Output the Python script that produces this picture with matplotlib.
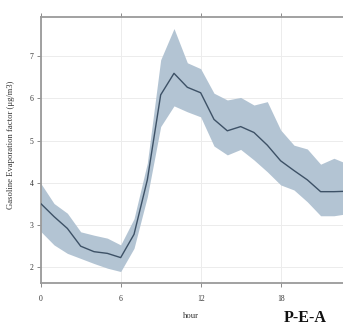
import matplotlib
matplotlib.use("Agg")
import matplotlib.pyplot as plt

hours = list(range(24))
mean_vals = [3.51, 3.20, 2.92, 2.50, 2.37, 2.33, 2.23, 2.78, 4.07, 6.08, 6.59, 6.26,
             6.13, 5.50, 5.23, 5.33, 5.19, 4.89, 4.52, 4.29, 4.07, 3.79, 3.79, 3.80]
upper_vals = [3.99, 3.51, 3.28, 2.84, 2.76, 2.69, 2.53, 3.15, 4.47, 6.91, 7.65, 6.84,
              6.70, 6.12, 5.96, 6.02, 5.84, 5.92, 5.25, 4.89, 4.80, 4.44, 4.58, 4.45]
lower_vals = [2.85, 2.53, 2.33, 2.21, 2.09, 1.98, 1.90, 2.45, 3.67, 5.33, 5.82, 5.68,
              5.56, 4.87, 4.66, 4.79, 4.54, 4.26, 3.95, 3.83, 3.55, 3.22, 3.22, 3.27]
xticks = [0, 6, 12, 18]
yticks = [2, 3, 4, 5, 6, 7]

plt.rcParams['font.family'] = ['Liberation Serif', 'DejaVu Serif']

fig = plt.figure(figsize=(3.43, 3.25), dpi=100)
W, H = 343, 325
x0, x1 = 40.7, 40.7 + 23 * 13.33
y_bot, y_top = 282.7, 16.7
ax = fig.add_axes([x0 / W, (H - y_bot) / H, (x1 - x0) / W, (y_bot - y_top) / H])

ax.fill_between(hours, lower_vals, upper_vals, color='#b3c4d3', linewidth=0, zorder=2)
ax.plot(hours, mean_vals, color='#3d5166', linewidth=1.0, zorder=3)

ax.set_xlim(0, 23)
ax.set_ylim(1.636, 7.93)
ax.set_xticks(xticks)
ax.set_yticks(yticks)
ax.grid(True, color='#ececec', linewidth=0.7, zorder=0)
ax.set_axisbelow(True)

for side in ['left', 'top', 'bottom']:
    ax.spines[side].set_color('#9a9a9a')
    ax.spines[side].set_linewidth(1.3)
ax.spines['right'].set_visible(False)

ax.tick_params(axis='both', direction='out', length=3, width=0.6, color='#777777',
               labelsize=5.5, labelcolor='#333333', pad=2)
ax.tick_params(axis='x', top=True, labeltop=False, pad=6)

ax.set_ylabel('Gasoline Evaporation factor (μg/m3)', fontsize=6.2, color='#333333',
              labelpad=8)
ax.yaxis.set_label_coords(-15 / (x1 - x0) * 1.0 - 0.0, 0.5)
ax.yaxis.set_label_coords((15 - x0) / (x1 - x0), (y_bot - 145) / (y_bot - y_top))
ax.set_xlabel('hour', fontsize=6.2, color='#333333')
ax.xaxis.set_label_coords((190.5 - x0) / (x1 - x0), -(312 - y_bot) / (y_bot - y_top))

fig.text(305 / W, (H - 318) / H, 'P-E-A', fontsize=11.5, fontweight='bold',
         ha='center', va='center', color='#111111')

fig.savefig('out.png', dpi=100)
